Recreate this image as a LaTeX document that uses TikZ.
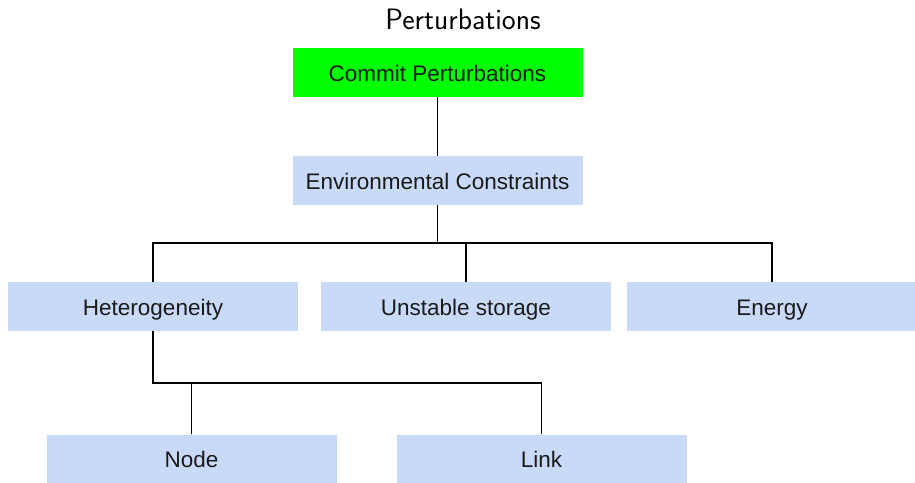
\documentclass[tikz,border=0pt]{standalone}
\usepackage{fontspec}
\newfontfamily\boxfont{Liberation Sans}
\definecolor{boxblue}{HTML}{C9DAF8}
\definecolor{boxgreen}{HTML}{00FF00}
\definecolor{boxtext}{HTML}{1A1A1A}
\tikzset{
  treebox/.style={rectangle, fill=boxblue, draw=none, minimum width=290pt,
    minimum height=49pt, inner sep=0pt, text=boxtext,
    text height=17pt, text depth=0pt,
    font=\boxfont\fontsize{22.5}{26}\selectfont},
  rootbox/.style={treebox, fill=boxgreen},
  link/.style={draw=black, line width=1.5pt}
}
\begin{document}
\begin{tikzpicture}[x=1pt, y=-1pt]
  \useasboundingbox (0,0) rectangle (915,482);

  % heading
  \node[font=\sffamily\fontsize{29.5}{35}\selectfont, anchor=base] (title)
    at (463,29.5) {Perturbations};

  % boxes
  \node[rootbox] (commit) at (437.5,72.5) {Commit Perturbations};
  \node[treebox] (env)    at (437.5,180.5) {Environmental Constraints};
  \node[treebox] (het)    at (153,306.5) {Heterogeneity};
  \node[treebox] (store)  at (466,306.5) {Unstable storage};
  \node[treebox] (energy) at (772,306.5) {Energy};
  \node[treebox] (nodeb)  at (191.5,459) {Node};
  \node[treebox] (linkb)  at (541.5,459) {Link};

  % junction points of the horizontal buses
  \coordinate (envbus) at (env.south |- 0,243);
  \coordinate (hetbus) at (het.south |- 0,383);

  % connectors
  \draw[link] (commit.south) -- (env.north);
  \draw[link] (env.south) -- (envbus);
  \draw[link] (het.north) |- (envbus) -| (energy.north);
  \draw[link] (store.north) -- (store.north |- envbus);
  \draw[link] (het.south) -- (hetbus) -| (linkb.north);
  \draw[link] (nodeb.north) -- (nodeb.north |- hetbus);
\end{tikzpicture}
\end{document}
